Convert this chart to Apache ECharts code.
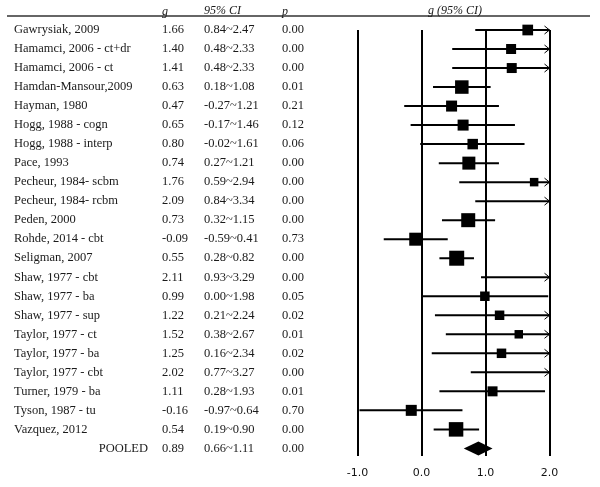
<!DOCTYPE html>
<html><head><meta charset="utf-8">
<script src="https://cdn.jsdelivr.net/npm/echarts@6/dist/echarts.min.js"></script>
<style>html,body{margin:0;padding:0;background:#fff}#c{width:600px;height:487px}</style>
</head><body><div id="c"></div>
<script>
const studies = ["Gawrysiak, 2009","Hamamci, 2006 - ct+dr","Hamamci, 2006 - ct","Hamdan-Mansour,2009","Hayman, 1980","Hogg, 1988 - cogn","Hogg, 1988 - interp","Pace, 1993","Pecheur, 1984- scbm","Pecheur, 1984- rcbm","Peden, 2000","Rohde, 2014 - cbt","Seligman, 2007","Shaw, 1977 - cbt","Shaw, 1977 - ba","Shaw, 1977 - sup","Taylor, 1977 - ct","Taylor, 1977 - ba","Taylor, 1977 - cbt","Turner, 1979 - ba","Tyson, 1987 - tu","Vazquez, 2012"];
const gVals = [1.66,1.40,1.41,0.63,0.47,0.65,0.80,0.74,1.76,2.09,0.73,-0.09,0.55,2.11,0.99,1.22,1.52,1.25,2.02,1.11,-0.16,0.54];
const ciLow = [0.84,0.48,0.48,0.18,-0.27,-0.17,-0.02,0.27,0.59,0.84,0.32,-0.59,0.28,0.93,0.00,0.21,0.38,0.16,0.77,0.28,-0.97,0.19];
const ciHigh = [2.47,2.33,2.33,1.08,1.21,1.46,1.61,1.21,2.94,3.34,1.15,0.41,0.82,3.29,1.98,2.24,2.67,2.34,3.27,1.93,0.64,0.90];
const pVals = ["0.00","0.00","0.00","0.01","0.21","0.12","0.06","0.00","0.00","0.00","0.00","0.73","0.00","0.00","0.05","0.02","0.01","0.02","0.00","0.01","0.70","0.00"];
const weights = [10.7,10,10,13.5,11,11,10.5,13,8.5,8.5,14,13,15,9,9.5,9.5,8.5,9.5,9,10,11,14.5];
const pooled = {label:"POOLED", g:0.89, lo:0.66, hi:1.11, p:"0.00"};
const xTicks = [-1, 0, 1, 2];

const X_MIN = -1, X_MAX = 2;
const COL = {name:14, g:162, ci:204, p:282, pooledRight:148};
const serif = '"Liberation Serif","Times New Roman",serif';
const txtColor = '#1a1a1a';

const fmt = v => v.toFixed(2);
const rowsData = studies.map((s,i)=>[i, gVals[i], ciLow[i], ciHigh[i], weights[i]]);
const textRows = studies.map((s,i)=>({value:[0,i], name:s, g:fmt(gVals[i]), ci:fmt(ciLow[i])+'~'+fmt(ciHigh[i]), p:pVals[i], pooled:false}));
textRows.push({value:[0,studies.length], name:pooled.label, g:fmt(pooled.g), ci:fmt(pooled.lo)+'~'+fmt(pooled.hi), p:pooled.p, pooled:true});

const chart = echarts.init(document.getElementById('c'), null, {renderer:'canvas'});
chart.setOption({
  animation:false,
  backgroundColor:'#fff',
  grid:{left:357.5, right:50.5, top:30, bottom:31, containLabel:false},
  xAxis:{type:'value', min:X_MIN, max:X_MAX, interval:1,
    axisLine:{show:false}, axisTick:{show:false},
    splitLine:{show:true, showMinLine:true, showMaxLine:true, lineStyle:{color:'#000', width:2}},
    axisLabel:{formatter:v=>v.toFixed(1), fontFamily:'"DejaVu Sans",Verdana,sans-serif', fontSize:11, color:'#111', margin:12}},
  yAxis:{type:'value', inverse:true, min:0, max:22.4, show:false},
  graphic:[
    {type:'line', shape:{x1:7,y1:16,x2:590,y2:16}, style:{stroke:'#333', lineWidth:1.5}},
    {type:'text', x:COL.g, y:12, style:{text:'g', font:'italic 12px '+serif, fill:txtColor, textVerticalAlign:'middle'}},
    {type:'text', x:COL.ci, y:11, style:{text:'95% CI', font:'italic 12px '+serif, fill:txtColor, textVerticalAlign:'middle'}},
    {type:'text', x:COL.p, y:12, style:{text:'p', font:'italic 12px '+serif, fill:txtColor, textVerticalAlign:'middle'}},
    {type:'text', x:455, y:11, style:{text:'g (95% CI)', font:'italic 12px '+serif, fill:txtColor, textAlign:'center', textVerticalAlign:'middle'}}
  ],
  series:[
    {type:'custom', clip:false, silent:true, data:textRows,
     renderItem:(params, api)=>{
       const d = textRows[params.dataIndex];
       const y = api.coord([0, d.value[1]])[1];
       const font = '12.5px '+serif;
       const mk = (x, t, align)=>({type:'text', style:{x:x, y:y, text:t, font:font, fill:txtColor, textAlign:align||'left', textVerticalAlign:'middle'}});
       return {type:'group', children:[
         d.pooled ? mk(COL.pooledRight, d.name, 'right') : mk(COL.name, d.name),
         mk(COL.g, d.g), mk(COL.ci, d.ci), mk(COL.p, d.p)
       ]};
     }},
    {type:'custom', clip:false, silent:true, data:rowsData,
     renderItem:(params, api)=>{
       const row = api.value(0), g = api.value(1), lo = api.value(2), hi = api.value(3), w = api.value(4);
       const y = api.coord([0,row])[1];
       const x1 = api.coord([Math.max(lo,X_MIN), row])[0];
       const x2 = api.coord([Math.min(hi,X_MAX), row])[0];
       const ch = [{type:'line', shape:{x1:x1,y1:y,x2:x2,y2:y}, style:{stroke:'#000', lineWidth:2}}];
       if (hi > X_MAX) ch.push({type:'polyline', shape:{points:[[x2-5,y-4],[x2,y],[x2-5,y+4]]}, style:{stroke:'#000', lineWidth:1, fill:null}});
       if (g <= X_MAX) {
         const gx = api.coord([g,row])[0];
         ch.push({type:'rect', shape:{x:gx-w/2, y:y-w/2, width:w, height:w}, style:{fill:'#000'}});
       }
       return {type:'group', children:ch};
     }},
    {type:'custom', clip:false, silent:true, data:[[studies.length, pooled.g, pooled.lo, pooled.hi]],
     renderItem:(params, api)=>{
       const row = api.value(0);
       const c = api.coord([api.value(1),row]);
       const l = api.coord([api.value(2),row])[0];
       const r = api.coord([api.value(3),row])[0];
       return {type:'polygon', shape:{points:[[l,c[1]],[c[0],c[1]-7],[r,c[1]],[c[0],c[1]+7]]}, style:{fill:'#000'}};
     }}
  ]
});
</script></body></html>
